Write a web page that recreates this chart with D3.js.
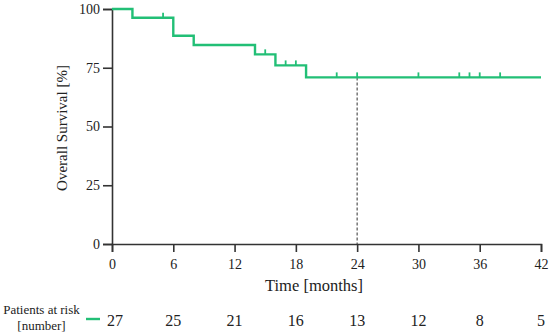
<!DOCTYPE html>
<html>
<head>
<meta charset="utf-8">
<script src="https://cdn.jsdelivr.net/npm/d3@7"></script>
<style>
  body { margin: 0; background: #fff; }
  svg text { font-family: "Liberation Serif", "Times New Roman", serif; fill: #222; }
</style>
</head>
<body>
<div id="chart"></div>
<script>
// data
const stepTimes = [0, 2, 6, 8, 14, 16, 19];
const stepSurvival = [100, 96.3, 88.6, 84.7, 80.7, 76.0, 70.9];
const followUpEnd = 42;
const censorTimes = [5, 15, 17, 18, 22, 24, 30, 34, 35, 36, 38];
const xTicks = [0, 6, 12, 18, 24, 30, 36, 42];
const yTicks = [0, 25, 50, 75, 100];
const atRisk = [27, 25, 21, 16, 13, 12, 8, 5];
const medianMark = 24;

const W = 550, H = 335;
const margin = { top: 9, right: 9, bottom: 91, left: 112 };
const width = W - margin.left - margin.right;
const height = H - margin.top - margin.bottom;
const green = "#22bf76";

const svg = d3.select("#chart").append("svg")
    .attr("width", W)
    .attr("height", H);

const g = svg.append("g")
    .attr("transform", `translate(${margin.left},${margin.top})`);

const x = d3.scaleLinear().domain([0, 42]).range([0, width]);
const y = d3.scaleLinear().domain([0, 100]).range([height, 0]);

// survival value at time t (step function)
function survAt(t) {
    let s = stepSurvival[0];
    stepTimes.forEach((st, i) => { if (st <= t) s = stepSurvival[i]; });
    return s;
}

const pts = stepTimes.map((t, i) => ({ t, s: stepSurvival[i] }));
pts.push({ t: followUpEnd, s: stepSurvival[stepSurvival.length - 1] });

// dashed reference line at 24 months
g.append("line")
    .attr("x1", x(medianMark)).attr("x2", x(medianMark))
    .attr("y1", y(survAt(medianMark))).attr("y2", y(0))
    .attr("stroke", "#555")
    .attr("stroke-width", 1.2)
    .attr("stroke-dasharray", "3,2");

// axes
const yAxis = g.append("g")
    .call(d3.axisLeft(y).tickValues(yTicks).tickSize(9).tickPadding(3));
const xAxis = g.append("g")
    .attr("transform", `translate(0,${height})`)
    .call(d3.axisBottom(x).tickValues(xTicks).tickSize(8).tickPadding(7));

[xAxis, yAxis].forEach(a => {
    a.select(".domain").attr("stroke", "#333").attr("stroke-width", 1.6);
    a.selectAll(".tick line").attr("stroke", "#333").attr("stroke-width", 1.6);
    a.selectAll(".tick text")
        .style("font-family", "Liberation Serif, serif")
        .style("font-size", "14px")
        .attr("fill", "#222");
});

// KM curve
const line = d3.line()
    .x(d => x(d.t))
    .y(d => y(d.s))
    .curve(d3.curveStepAfter);

g.append("path")
    .datum(pts)
    .attr("fill", "none")
    .attr("stroke", green)
    .attr("stroke-width", 2.4)
    .attr("d", line);

// censor marks
g.selectAll(".censor")
    .data(censorTimes)
    .enter()
    .append("line")
    .attr("class", "censor")
    .attr("x1", d => x(d)).attr("x2", d => x(d))
    .attr("y1", d => y(survAt(d)))
    .attr("y2", d => y(survAt(d)) - 5)
    .attr("stroke", green)
    .attr("stroke-width", 1.8);

// axis titles
svg.append("text")
    .attr("x", 314)
    .attr("y", 291)
    .attr("text-anchor", "middle")
    .style("font-size", "16.5px")
    .text("Time [months]");

g.append("text")
    .attr("transform", "rotate(-90)")
    .attr("x", -(128 - margin.top))
    .attr("y", -45)
    .attr("text-anchor", "middle")
    .style("font-size", "15px")
    .text("Overall Survival [%]");

// patients at risk table
svg.append("text")
    .attr("x", 41.5).attr("y", 314)
    .attr("text-anchor", "middle")
    .style("font-size", "13px")
    .text("Patients at risk");
svg.append("text")
    .attr("x", 41.5).attr("y", 330)
    .attr("text-anchor", "middle")
    .style("font-size", "13px")
    .text("[number]");

svg.append("line")
    .attr("x1", 86).attr("x2", 100)
    .attr("y1", 319).attr("y2", 319)
    .attr("stroke", green)
    .attr("stroke-width", 2.4);

g.selectAll(".risk")
    .data(atRisk)
    .enter()
    .append("text")
    .attr("class", "risk")
    .attr("x", (d, i) => x(xTicks[i]) + (i === 0 ? 3 : 0))
    .attr("y", 326 - margin.top)
    .attr("text-anchor", "middle")
    .style("font-size", "16px")
    .text(d => d);
</script>
</body>
</html>
